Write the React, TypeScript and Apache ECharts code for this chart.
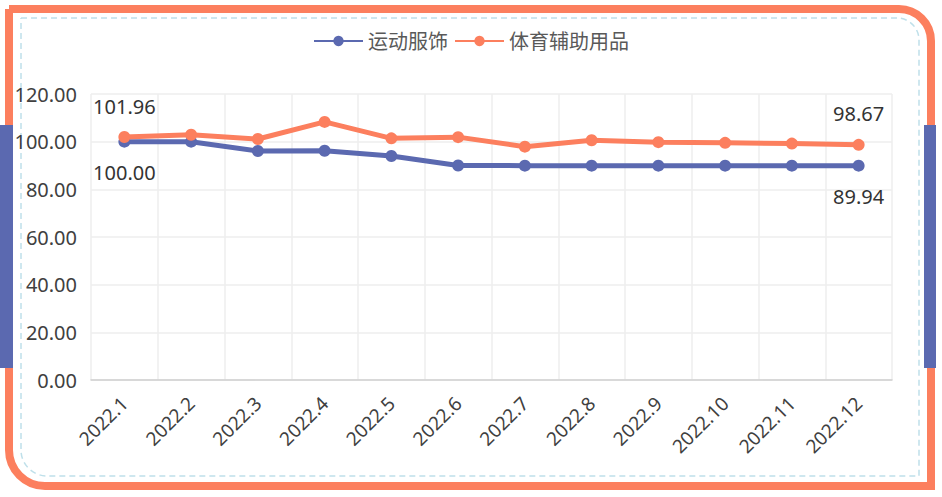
import React, { useEffect, useRef } from "react";
import * as echarts from "echarts";

const categories = ["2022.1", "2022.2", "2022.3", "2022.4", "2022.5", "2022.6", "2022.7", "2022.8", "2022.9", "2022.10", "2022.11", "2022.12"];
const sportswear = [100.0, 100.0, 96.1, 96.2, 94.0, 90.0, 89.94, 89.94, 89.94, 89.94, 89.94, 89.94];
const sportsGoods = [101.96, 102.9, 101.1, 108.3, 101.4, 101.9, 97.9, 100.6, 99.8, 99.5, 99.2, 98.67];
const seriesNames = ["运动服饰", "体育辅助用品"];

const BLUE = "#5b69b0";
const ORANGE = "#fc7f5e";
const FONT = "'Noto Sans', 'Noto Sans CJK SC', sans-serif";

function withEndLabels(values: number[], pos: "top" | "bottom") {
  const last = values.length - 1;
  return values.map((v, i) =>
    i === 0 || i === last
      ? { value: v, label: { show: true, position: pos, distance: 15 } }
      : v
  );
}

export default function App() {
  const ref = useRef<HTMLDivElement>(null);
  useEffect(() => {
    if (!ref.current) return;
    const chart = echarts.init(ref.current, null, { renderer: "svg" });
    chart.setOption({
      animation: false,
      backgroundColor: "#fff",
      textStyle: { fontFamily: FONT },
      graphic: [
        {
          type: "rect",
          z: -1,
          shape: { x: 9, y: 9, width: 922, height: 477, r: [0, 32, 0, 36] },
          style: { fill: "none", stroke: ORANGE, lineWidth: 8 },
        },
        {
          type: "rect",
          z: -1,
          shape: { x: 0, y: 125, width: 13, height: 243 },
          style: { fill: BLUE },
        },
        {
          type: "rect",
          z: -1,
          shape: { x: 924, y: 125, width: 12, height: 243 },
          style: { fill: BLUE },
        },
        {
          type: "rect",
          z: -1,
          shape: { x: 21, y: 18, width: 898, height: 458, r: [0, 22, 0, 26] },
          style: { fill: "none", stroke: "#bfe0ea", lineWidth: 1.5, lineDash: [6, 4] },
        },
      ],
      legend: {
        top: 26,
        left: "center",
        itemWidth: 49,
        itemHeight: 13,
        itemGap: 6,
        textStyle: { fontSize: 20, color: "#595959", fontFamily: FONT },
        data: seriesNames,
      },
      grid: { left: 91, right: 50, top: 94, bottom: 117 },
      xAxis: {
        type: "category",
        data: categories,
        boundaryGap: true,
        axisLine: { lineStyle: { color: "#d0d0d0", width: 1.5 } },
        axisTick: { show: false },
        axisLabel: { rotate: 45, fontSize: 19, color: "#404040", margin: 20, fontFamily: FONT },
        splitLine: { show: true, lineStyle: { color: "#eeeeee", width: 1.5 } },
      },
      yAxis: {
        type: "value",
        min: 0,
        max: 120,
        interval: 20,
        axisLine: { show: false },
        axisTick: { show: false },
        axisLabel: {
          fontSize: 20,
          color: "#404040",
          margin: 14,
          fontFamily: FONT,
          formatter: (v: number) => v.toFixed(2),
        },
        splitLine: { lineStyle: { color: "#eeeeee", width: 1.5 } },
      },
      series: [
        {
          name: seriesNames[0],
          type: "line",
          data: withEndLabels(sportswear, "bottom"),
          symbol: "circle",
          symbolSize: 12,
          itemStyle: { color: BLUE },
          lineStyle: { color: BLUE, width: 5 },
          label: {
            show: false,
            fontSize: 20,
            color: "#333",
            fontFamily: FONT,
            formatter: (p: any) => Number(p.value).toFixed(2),
          },
        },
        {
          name: seriesNames[1],
          type: "line",
          data: withEndLabels(sportsGoods, "top"),
          symbol: "circle",
          symbolSize: 12,
          itemStyle: { color: ORANGE },
          lineStyle: { color: ORANGE, width: 5 },
          label: {
            show: false,
            fontSize: 20,
            color: "#333",
            fontFamily: FONT,
            formatter: (p: any) => Number(p.value).toFixed(2),
          },
        },
      ],
    });
    return () => chart.dispose();
  }, []);
  return (
    <div
      ref={ref}
      style={{ position: "fixed", left: 0, top: 0, width: 942, height: 497 }}
    />
  );
}
